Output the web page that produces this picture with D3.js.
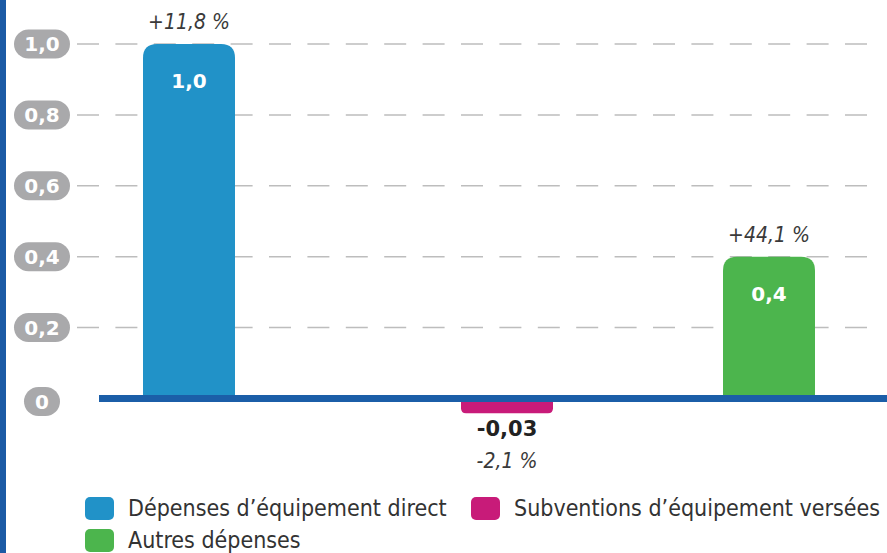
<!DOCTYPE html>
<html lang="fr">
<head>
<meta charset="utf-8">
<title>Dépenses d'investissement</title>
<script src="https://cdn.jsdelivr.net/npm/d3@7"></script>
<style>
  body { margin: 0; background: #fff; }
  svg { display: block; }
</style>
</head>
<body>
<svg width="887" height="553"></svg>
<script>
// données
var categories = ["Dépenses d\u2019équipement direct", "Subventions d\u2019équipement versées", "Autres dépenses"];
var values = [1.0, -0.03, 0.4];
var valueLabels = ["1,0", "-0,03", "0,4"];
var changes = ["+11,8 %", "-2,1 %", "+44,1 %"];
var colors = ["#2192c8", "#c81b79", "#4cb54d"];
var yTicks = [0, 0.2, 0.4, 0.6, 0.8, 1.0];

var svg = d3.select("svg");
var narrow = "'DejaVu Sans Condensed', 'Liberation Sans Narrow', sans-serif";
var bold = "'DejaVu Sans', sans-serif";

var y = d3.scaleLinear().domain([0, 1]).range([398.5, 44]);
var x = d3.scaleOrdinal().domain(categories).range([189, 507, 769]);
var barW = 92, r = 14;
var fmtTick = d3.formatLocale({decimal: ",", thousands: " ", grouping: [3], currency: ["", "€"]}).format(".1f");

// bande bleue à gauche
svg.append("rect").attr("x", 0).attr("y", 0).attr("width", 6).attr("height", 553).attr("fill", "#1b5aa5");

// grille
svg.selectAll("line.grid")
  .data(yTicks.filter(d => d > 0))
  .enter().append("line")
  .attr("class", "grid")
  .attr("x1", 77).attr("x2", 868)
  .attr("y1", d => y(d)).attr("y2", d => y(d))
  .attr("stroke", "#bdbdbd").attr("stroke-width", 1.5)
  .attr("stroke-dasharray", "22 16.4");

// étiquettes de l'axe (pastilles grises)
var ticks = svg.selectAll("g.tick").data(yTicks).enter().append("g")
  .attr("class", "tick")
  .attr("transform", d => "translate(42," + (d === 0 ? y(d) + 3 : y(d)) + ")");
ticks.append("rect")
  .attr("x", d => d === 0 ? -18 : -28).attr("y", -14.5)
  .attr("width", d => d === 0 ? 36 : 56).attr("height", 29)
  .attr("rx", 14.5).attr("fill", "#a9a9ab");
ticks.append("text")
  .attr("text-anchor", "middle").attr("dy", "0.36em")
  .attr("font-family", bold).attr("font-weight", "bold").attr("font-size", 20)
  .attr("fill", "#fff")
  .text(d => d === 0 ? "0" : fmtTick(d));

// barres
function barPath(d, i) {
  var x0 = x(categories[i]) - barW / 2, x1 = x0 + barW;
  var y0 = y(0), y1 = y(d);
  if (d >= 0) {
    return "M" + x0 + "," + y0 + "V" + (y1 + r) + "Q" + x0 + "," + y1 + " " + (x0 + r) + "," + y1 +
      "H" + (x1 - r) + "Q" + x1 + "," + y1 + " " + x1 + "," + (y1 + r) + "V" + y0 + "Z";
  }
  var yb = y1 + 4, rr = 5;
  return "M" + x0 + "," + y0 + "V" + (yb - rr) + "Q" + x0 + "," + yb + " " + (x0 + rr) + "," + yb +
    "H" + (x1 - rr) + "Q" + x1 + "," + yb + " " + x1 + "," + (yb - rr) + "V" + y0 + "Z";
}
svg.selectAll("path.bar").data(values).enter().append("path")
  .attr("class", "bar")
  .attr("d", barPath)
  .attr("fill", (d, i) => colors[i]);

// ligne de base
svg.append("rect").attr("x", 99).attr("y", y(0) - 3.5).attr("width", 788).attr("height", 7).attr("fill", "#1b5ea8");

// valeurs
svg.selectAll("text.val").data(values).enter().append("text")
  .attr("class", "val")
  .attr("x", (d, i) => x(categories[i]))
  .attr("y", d => d >= 0 ? y(d) + 44 : y(0) + 37)
  .attr("text-anchor", "middle")
  .attr("font-family", bold).attr("font-weight", "bold")
  .attr("font-size", d => d >= 0 ? 20 : 21)
  .attr("fill", d => d >= 0 ? "#fff" : "#222")
  .text((d, i) => valueLabels[i]);

// évolutions
svg.selectAll("text.chg").data(values).enter().append("text")
  .attr("class", "chg")
  .attr("x", (d, i) => x(categories[i]))
  .attr("y", d => d >= 0 ? y(d) - 15 : y(0) + 69)
  .attr("text-anchor", "middle")
  .attr("font-family", narrow).attr("font-style", "italic")
  .attr("font-size", 21).attr("fill", "#3a3a3a")
  .text((d, i) => changes[i]);

// légende
var legPos = [[85, 497], [471, 497], [85, 529]];
var leg = svg.selectAll("g.leg").data(categories).enter().append("g")
  .attr("class", "leg")
  .attr("transform", (d, i) => "translate(" + legPos[i][0] + "," + legPos[i][1] + ")");
leg.append("rect").attr("width", 29).attr("height", 23).attr("rx", 5)
  .attr("fill", (d, i) => colors[i]);
leg.append("text").attr("x", 43).attr("y", 19)
  .attr("font-family", narrow).attr("font-size", 23).attr("fill", "#333")
  .text(d => d);
</script>
</body>
</html>
